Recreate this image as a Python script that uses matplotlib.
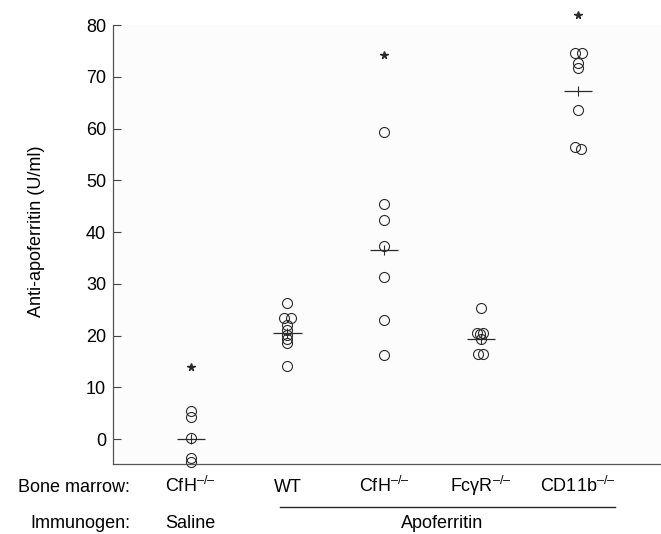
import numpy as np
import matplotlib
matplotlib.use('Agg')
import matplotlib.pyplot as plt

plt.rcParams['font.family'] = ['Liberation Sans', 'DejaVu Sans']
plt.rcParams['mathtext.fontset'] = 'custom'
plt.rcParams['mathtext.rm'] = 'Liberation Sans'

# groups (x position 1..5)
bone_marrow = ['CfH', 'WT', 'CfH', 'Fc\u03b3R', 'CD11b']
knockout = [True, False, True, True, True]

# individual values (U/ml) with small horizontal jitter as in the figure
vals_saline_cfh = [5.4, 4.3, 0.3, -3.7, -4.4]
dx_saline_cfh = [0, 0, 0, 0, 0]
vals_wt = [26.4, 23.4, 23.4, 22.1, 21.0, 20.2, 19.4, 18.5, 14.1]
dx_wt = [0, -0.035, 0.035, 0, 0, 0, 0, 0, 0]
vals_cfh = [59.4, 45.5, 42.4, 37.4, 31.4, 23.0, 16.2]
dx_cfh = [0, 0, 0, 0, 0, 0, 0]
vals_fcgr = [25.4, 20.6, 20.6, 20.3, 19.4, 16.4, 16.4]
dx_fcgr = [0, -0.045, 0.025, -0.01, 0, -0.03, 0.02]
vals_cd11b = [74.7, 74.7, 72.6, 71.7, 63.6, 56.5, 56.0]
dx_cd11b = [-0.03, 0.04, 0.005, 0.005, 0.005, -0.03, 0.03]

values = [vals_saline_cfh, vals_wt, vals_cfh, vals_fcgr, vals_cd11b]
jitter = [dx_saline_cfh, dx_wt, dx_cfh, dx_fcgr, dx_cd11b]
means = [0.0, 20.6, 36.6, 19.3, 67.2]

# asterisks (significance) per group
star_x = [1, 3, 5]
star_y = [14.0, 74.2, 82.0]

ink = '#2a2a2a'
ko_sup = '$^{\\mathregular{\u2013/\u2013}}$'

fig = plt.figure(figsize=(6.61, 5.34), dpi=100)
ax = fig.add_axes([0.171, 0.131, 0.829, 0.822])
ax.set_facecolor('#fcfcfc')

for i, (v, d) in enumerate(zip(values, jitter)):
    x = i + 1 + np.array(d)
    ax.plot(x, v, 'o', ms=7.2, mfc='none', mec=ink, mew=0.8, clip_on=False)
    ax.hlines(means[i], i + 1 - 0.145, i + 1 + 0.145, color=ink, lw=0.9)
    ax.plot(i + 1, means[i], '|', ms=7, mec=ink, mew=0.8)

ax.plot(star_x, star_y, '*', ms=5.5, color=ink, mec=ink, ls='none', clip_on=False)

ax.set_xlim(0.197, 5.86)
ax.set_ylim(-4.8, 80)
ax.set_yticks(np.arange(0, 81, 10))
ax.set_xticks([])
ax.tick_params(axis='y', direction='in', length=6, width=0.8, labelsize=13, pad=5, color='#444')
for s in ['top', 'right']:
    ax.spines[s].set_visible(False)
for s in ['left', 'bottom']:
    ax.spines[s].set_color('#555')
    ax.spines[s].set_linewidth(0.9)
ax.set_ylabel('Anti-apoferritin (U/ml)', fontsize=13)
ax.yaxis.set_label_coords(-0.125, 0.53)

# category labels under the axis
tr = ax.get_xaxis_transform()
for i, name in enumerate(bone_marrow):
    lab = name + (ko_sup if knockout[i] else '')
    ax.text(i + 1, -0.0638, lab, transform=tr, ha='center', va='baseline', fontsize=13, clip_on=False)

fig.text(0.197, 1 - 492 / 534, 'Bone marrow:', ha='right', va='baseline', fontsize=13)
fig.text(0.197, 1 - 528 / 534, 'Immunogen:', ha='right', va='baseline', fontsize=13)
ax.text(1, -0.146, 'Saline', transform=tr, ha='center', va='baseline', fontsize=13, clip_on=False)
ax.text(3.6, -0.146, 'Apoferritin', transform=tr, ha='center', va='baseline', fontsize=13, clip_on=False)
ax.plot([1.92, 5.38], [-0.098, -0.098], transform=tr, color=ink, lw=1.0, clip_on=False)

fig.savefig('out.png', dpi=100)
